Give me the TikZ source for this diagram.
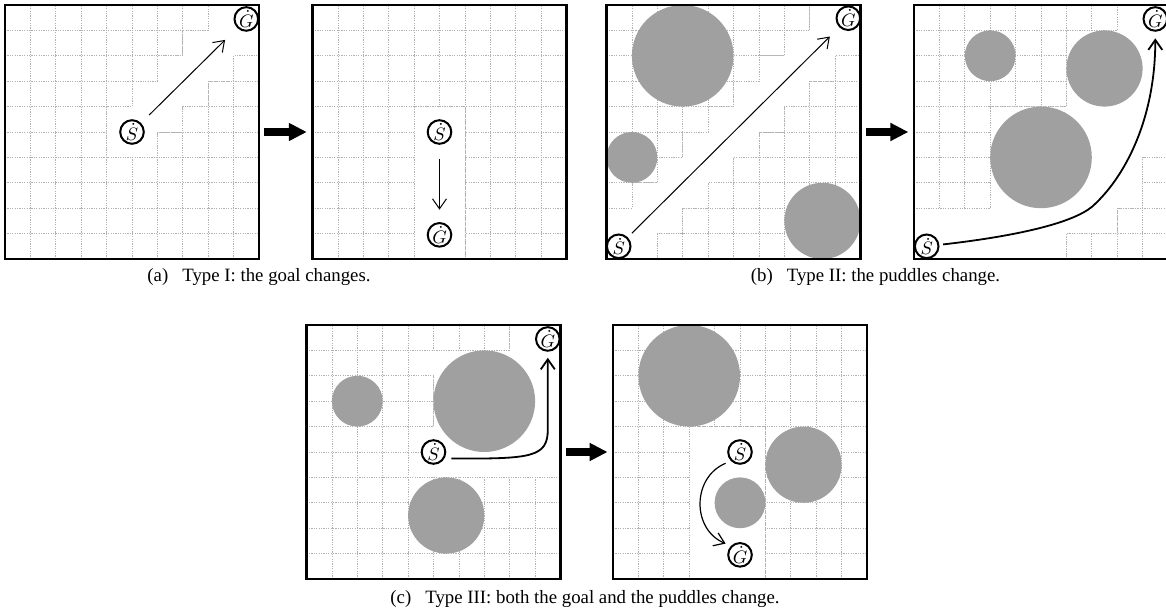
\documentclass[tikz,border=0pt]{standalone}
\usepackage{fontspec}
\setmainfont{Liberation Serif}
\usetikzlibrary{arrows.meta}
\definecolor{puddle}{RGB}{160,160,160}
\definecolor{gridc}{RGB}{178,178,178}
\tikzset{
 gridl/.style={draw=gridc, line width=0.4pt, dash pattern=on 0.6pt off 0.6pt},
 frame/.style={draw=black, line width=1.1pt},
 state/.style={circle, draw=black, line width=1pt, fill=white, minimum size=11.8pt, inner sep=0pt, font=\fontsize{8.6}{9}\selectfont},
 thinarrow/.style={-{Straight Barb[length=5pt,width=7pt]}, line width=0.5pt},
 thickarrow/.style={-{Straight Barb[length=5pt,width=7pt]}, line width=0.9pt},
 bigarrow/.style={-{Triangle[length=9pt,width=8.5pt]}, line width=3.75pt},
 captext/.style={font=\fontsize{9.4}{11}\selectfont, anchor=base, inner sep=0pt},
}
\newcommand{\panelbase}[1]{%
  \foreach \k in {1,...,9} {\draw[gridl] (\k,0) -- (\k,10); \draw[gridl] (0,\k) -- (10,\k);}
  \fill[white] #1;
  \draw[gridl] #1;
}
\begin{document}
\begin{tikzpicture}
\useasboundingbox (0,0) rectangle (583pt,307.5pt);
\fill[white] (0,0) rectangle (583pt,307.5pt);
% ---------- panel 1
\begin{scope}[shift={(2.5pt,178pt)},x=12.7pt,y=12.7pt]
 \panelbase{(8,10)--(10,10)--(10,8)--(9,8)--(9,7)--(8,7)--(8,6)--(7,6)--(7,5)--(6,5)--(6,4)--(4,4)--(4,6)--(5,6)--(5,7)--(6,7)--(6,8)--(7,8)--(7,9)--(8,9)--cycle}
 \draw[frame] (0,0) rectangle (10,10);
 \node[state] (S1) at (5,5) {$\dot S$};
 \node[state] (G1) at (9.5,9.45) {$\dot G$};
 \draw[thinarrow, shorten <=5.7pt, shorten >=8.5pt] (S1) -- (G1);
\end{scope}
% ---------- panel 2
\begin{scope}[shift={(156.25pt,178pt)},x=12.7pt,y=12.7pt]
 \panelbase{(4,0) rectangle (6,6)}
 \draw[frame] (0,0) rectangle (10,10);
 \node[state] (S2) at (5,5) {$\dot S$};
 \node[state] (G2) at (5,0.95) {$\dot G$};
 \draw[thinarrow, shorten <=7.1pt, shorten >=6.2pt] (S2) -- (G2);
\end{scope}
% ---------- panel 3
\begin{scope}[shift={(303.25pt,178pt)},x=12.7pt,y=12.7pt]
 \panelbase{(8,10)--(10,10)--(10,8)--(9,8)--(9,7)--(8,7)--(8,6)--(7,6)--(7,5)--(6,5)--(6,4)--(5,4)--(5,3)--(4,3)--(4,2)--(3,2)--(3,1)--(2,1)--(2,0)--(0,0)--(0,2)--(1,2)--(1,3)--(2,3)--(2,4)--(3,4)--(3,5)--(4,5)--(4,6)--(5,6)--(5,7)--(6,7)--(6,8)--(7,8)--(7,9)--(8,9)--cycle}
 \fill[puddle] (3,8) circle (2);
 \fill[puddle] (1,4) circle (1);
 \fill[puddle] (8.5,1.5) circle (1.5);
 \draw[frame] (0,0) rectangle (10,10);
 \node[state] (S3) at (0.48,0.5) {$\dot S$};
 \node[state] (G3) at (9.52,9.48) {$\dot G$};
 \draw[thinarrow, shorten <=2.9pt, shorten >=6.6pt] (S3) -- (G3);
\end{scope}
% ---------- panel 4
\begin{scope}[shift={(457pt,178pt)},x=12.7pt,y=12.7pt]
 \panelbase{(8,10)--(10,10)--(10,4)--(9,4)--(9,2)--(8,2)--(8,1)--(6,1)--(6,0)--(0,0)--(0,2)--(3,2)--(3,6)--(6,6)--(6,9)--(8,9)--cycle}
 \fill[puddle] (3,8) circle (1);
 \fill[puddle] (7.5,7.5) circle (1.5);
 \fill[puddle] (5,4) circle (2);
 \draw[frame] (0,0) rectangle (10,10);
 \node[state] (S4) at (0.5,0.5) {$\dot S$};
 \node[state] (G4) at (9.5,9.45) {$\dot G$};
 \draw[thickarrow, shorten <=1.9pt, shorten >=3.3pt] (S4) .. controls (4,0.9) and (6.2,1.4) .. (7,2.05) .. controls (8.3,3.2) and (9.5,5.5) .. (G4);
\end{scope}
% ---------- panel 5
\begin{scope}[shift={(153.25pt,18pt)},x=12.7pt,y=12.7pt]
 \panelbase{(8,10)--(10,10)--(10,4)--(4,4)--(4,6)--(5,6)--(5,8)--(4,8)--(4,9)--(8,9)--cycle}
 \draw[gridl] (4,5) -- (5,5);
 \fill[puddle] (2,7) circle (1);
 \fill[puddle] (7,7) circle (2);
 \fill[puddle] (5.5,2.5) circle (1.5);
 \draw[frame] (0,0) rectangle (10,10);
 \node[state] (S5) at (5,5) {$\dot S$};
 \node[state] (G5) at (9.5,9.45) {$\dot G$};
 \draw[thickarrow, shorten <=3.4pt, shorten >=3pt] (S5.-30) .. controls (8.9,4.72) and (9.5,4.8) .. (9.5,5.9) -- (G5);
\end{scope}
% ---------- panel 6
\begin{scope}[shift={(306.5pt,18pt)},x=12.7pt,y=12.7pt]
 \panelbase{(3,0) rectangle (6,6)}
 \fill[puddle] (3,8) circle (2);
 \fill[puddle] (7.5,4.5) circle (1.5);
 \fill[puddle] (5,3) circle (1);
 \draw[frame] (0,0) rectangle (10,10);
 \node[state] (S6) at (5,5) {$\dot S$};
 \node[state] (G6) at (5,0.95) {$\dot G$};
 \draw[thinarrow, line width=0.6pt, shorten <=2.9pt, shorten >=2.9pt] (S6.-135) .. controls (3.1,4.0) and (3.1,1.95) .. (G6.135);
\end{scope}
% ---------- big arrows
\coordinate (a1s) at (132pt,241.5pt);
\coordinate (a1e) at (153.4pt,241.5pt);
\coordinate (a2s) at (432.9pt,241.5pt);
\coordinate (a2e) at (454.2pt,241.5pt);
\coordinate (a3s) at (282.8pt,81.5pt);
\coordinate (a3e) at (303.8pt,81.5pt);
\draw[bigarrow] (a1s) -- (a1e);
\draw[bigarrow] (a2s) -- (a2e);
\draw[bigarrow] (a3s) -- (a3e);
% ---------- captions
\node[captext] (capA) at (129.5pt,166.5pt) {(a)\hspace{0.5em} Type I: the goal changes.};
\node[captext] (capB) at (437.75pt,166.5pt) {(b)\hspace{0.5em} Type II: the puddles change.};
\node[captext] (capC) at (292.5pt,5.5pt) {(c)\hspace{0.5em} Type III: both the goal and the puddles change.};
\end{tikzpicture}
\end{document}
